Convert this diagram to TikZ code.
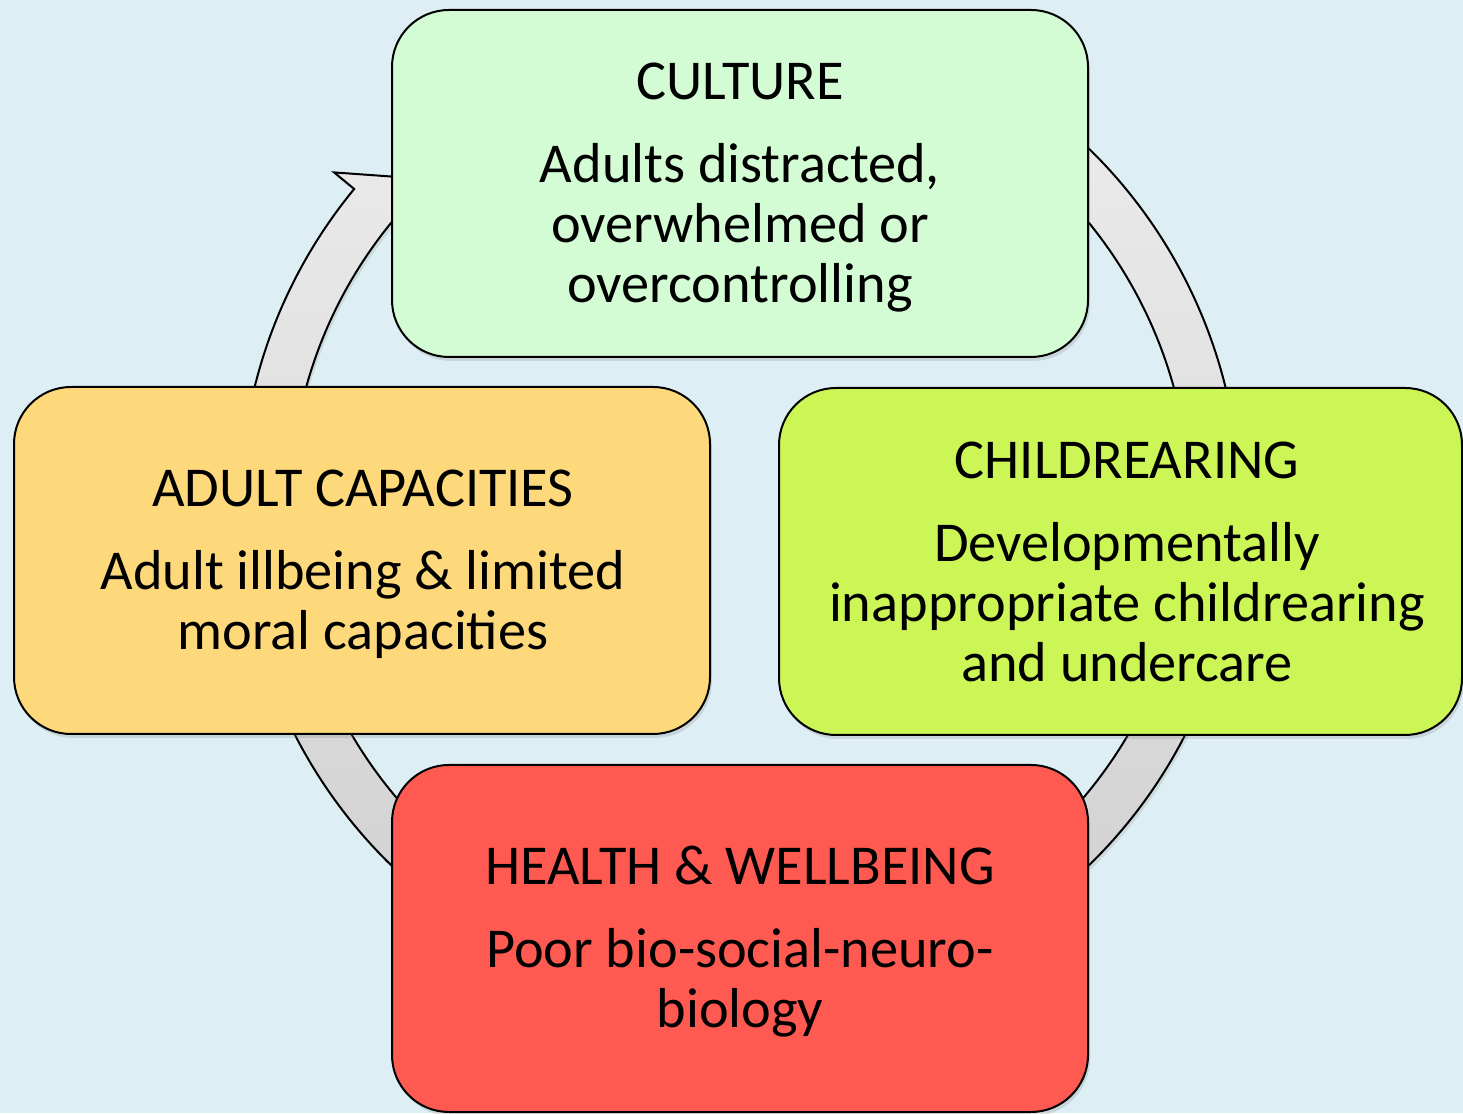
\documentclass[tikz,border=0pt]{standalone}
\usepackage{fontspec}
\setmainfont{Carlito}
\usetikzlibrary{calc,shadows}
\definecolor{bgblue}{HTML}{DDEFF5}
\definecolor{cultgreen}{HTML}{D4FCD4}
\definecolor{adultorange}{HTML}{FED97B}
\definecolor{childgreen}{HTML}{CCF556}
\definecolor{healthred}{HTML}{FE5A52}
\definecolor{ringtop}{HTML}{EDEDED}
\definecolor{ringbot}{HTML}{CDCDCD}
\tikzset{
  box/.style={draw=black, line width=2pt, rounded corners=57pt, inner sep=0pt,
    drop shadow={shadow xshift=2pt, shadow yshift=-4pt, opacity=0.22}},
  txt/.style={anchor=base, inner sep=0pt, font=\fontsize{56.3}{60}\selectfont},
  ring/.style={draw=black, line width=2pt, top color=ringtop, bottom color=ringbot,
    drop shadow={shadow xshift=2pt, shadow yshift=-4pt, opacity=0.18}}
}
\begin{document}
\begin{tikzpicture}[x=1pt,y=1pt]
\useasboundingbox (0,0) rectangle (1463,1113);
\fill[bgblue] (0,0) rectangle (1463,1113);
\coordinate (C) at (740,606);
% circular arrow
\path[ring] ($(C)+(70:500pt)$) arc[start angle=70, end angle=-219.5, radius=500pt]
  -- ($(C)+(140.5:526pt)$) -- ($(C)+(136:475pt)$) -- ($(C)+(140.5:424pt)$)
  -- ($(C)+(140.5:450pt)$) arc[start angle=-219.5, end angle=70, radius=450pt] -- cycle;
% boxes
\node[box, fill=cultgreen, minimum width=696pt, minimum height=347pt] (cult) at (740,929.5) {};
\node[box, fill=adultorange, minimum width=696pt, minimum height=347pt] (adult) at (362,552.5) {};
\node[box, fill=childgreen, minimum width=683pt, minimum height=347pt] (child) at (1120.5,551.5) {};
\node[box, fill=healthred, minimum width=696pt, minimum height=347pt] (health) at (740,174.5) {};
% texts
\node[txt] (c1) at (740,1013) {CULTURE};
\node[txt] (c2) at (740,930) {Adults distracted,};
\node[txt] (c3) at (740,870) {overwhelmed or};
\node[txt] (c4) at (740,810) {overcontrolling};
\node[txt] (a1) at (363,606) {ADULT CAPACITIES};
\node[txt] (a2) at (363,523) {Adult illbeing \& limited};
\node[txt] (a3) at (363,463) {moral capacities};
\node[txt] (k1) at (1127,634) {CHILDREARING};
\node[txt] (k2) at (1127,551) {Developmentally};
\node[txt] (k3) at (1127,491) {inappropriate childrearing};
\node[txt] (k4) at (1127,431) {and undercare};
\node[txt] (h1) at (740,228) {HEALTH \& WELLBEING};
\node[txt] (h2) at (740,145) {Poor bio-social-neuro-};
\node[txt] (h3) at (740,85) {biology};
\end{tikzpicture}
\end{document}
